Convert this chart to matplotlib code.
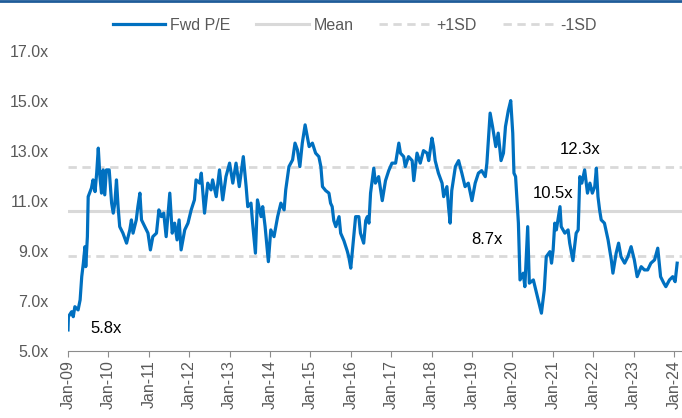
import matplotlib
matplotlib.use("Agg")
import matplotlib.pyplot as plt
from matplotlib.lines import Line2D

plt.rcParams['font.family'] = ['Liberation Sans', 'DejaVu Sans']

# forward P/E (decimal year, multiple)
years = [
    2009.00, 2009.01, 2009.09, 2009.13, 2009.17, 2009.25, 2009.30, 2009.34, 2009.38, 2009.42,
    2009.44, 2009.48, 2009.50, 2009.58, 2009.62, 2009.67, 2009.71, 2009.75, 2009.79, 2009.83,
    2009.87, 2009.91, 2009.95, 2010.02, 2010.08, 2010.12, 2010.16, 2010.20, 2010.24, 2010.28,
    2010.36, 2010.45, 2010.53, 2010.57, 2010.61, 2010.69, 2010.73, 2010.78, 2010.82, 2010.90,
    2010.98, 2011.04, 2011.10, 2011.19, 2011.25, 2011.31, 2011.37, 2011.43, 2011.52, 2011.58,
    2011.64, 2011.70, 2011.75, 2011.80, 2011.89, 2011.97,
    2012.05, 2012.13, 2012.17, 2012.26, 2012.30, 2012.38, 2012.46, 2012.54, 2012.58, 2012.67,
    2012.75, 2012.83, 2012.91, 2013.00, 2013.08, 2013.16, 2013.24, 2013.34, 2013.41, 2013.45,
    2013.53, 2013.57, 2013.64, 2013.69, 2013.78, 2013.82, 2013.88, 2013.96, 2014.02, 2014.10,
    2014.19, 2014.27, 2014.35, 2014.39, 2014.47, 2014.56, 2014.62, 2014.68, 2014.74, 2014.80,
    2014.87,
    2014.97, 2015.05, 2015.13, 2015.21, 2015.26, 2015.30, 2015.38, 2015.46, 2015.50, 2015.54,
    2015.58, 2015.63, 2015.71, 2015.75, 2015.83, 2015.91, 2015.95, 2016.00, 2016.04, 2016.12,
    2016.20, 2016.24, 2016.32, 2016.37, 2016.41, 2016.45, 2016.49, 2016.57, 2016.61, 2016.69,
    2016.78, 2016.86, 2016.94, 2017.02, 2017.11, 2017.19, 2017.23, 2017.31, 2017.35, 2017.43,
    2017.52, 2017.56, 2017.64, 2017.72, 2017.80, 2017.89,
    2017.93, 2018.01, 2018.05, 2018.09, 2018.17, 2018.26, 2018.30, 2018.38, 2018.42, 2018.46,
    2018.50, 2018.59, 2018.67, 2018.75, 2018.83, 2018.91, 2019.00, 2019.08, 2019.16, 2019.24,
    2019.33, 2019.37, 2019.45, 2019.51, 2019.59, 2019.65, 2019.72, 2019.78, 2019.83, 2019.90,
    2019.96, 2020.01, 2020.04, 2020.08, 2020.15, 2020.19, 2020.27, 2020.31, 2020.38, 2020.42,
    2020.52, 2020.60,
    2020.72, 2020.79, 2020.84, 2020.93, 2020.97, 2021.01, 2021.05, 2021.09, 2021.18, 2021.21,
    2021.30, 2021.38, 2021.42, 2021.50, 2021.58, 2021.63, 2021.67, 2021.72, 2021.79, 2021.86,
    2021.92, 2021.98, 2022.04, 2022.08, 2022.12, 2022.16, 2022.20, 2022.28, 2022.37, 2022.45,
    2022.49, 2022.57, 2022.63, 2022.69, 2022.78, 2022.86, 2022.94, 2023.02, 2023.09, 2023.19,
    2023.27, 2023.35, 2023.43, 2023.52, 2023.60, 2023.67, 2023.75, 2023.80, 2023.89, 2023.97,
    2024.03, 2024.08,
]
fwd_pe = [
    5.83, 6.36, 6.56, 6.36, 6.76, 6.63, 7.03, 7.96, 8.50, 9.16,
    8.36, 9.56, 11.16, 11.50, 11.83, 11.36, 12.10, 13.10, 11.96, 11.30,
    12.23, 11.23, 12.23, 12.23, 10.90, 10.50, 10.90, 11.83, 10.76, 9.96,
    9.70, 9.30, 9.83, 10.23, 9.70, 10.23, 10.76, 11.30, 10.23, 9.96,
    9.70, 9.03, 9.56, 9.70, 10.63, 10.36, 10.50, 9.56, 11.30, 9.70,
    10.10, 9.43, 10.23, 9.03, 9.83, 10.10,
    10.63, 11.03, 11.83, 11.70, 12.10, 10.50, 11.70, 11.43, 11.83, 11.16,
    12.23, 11.03, 11.96, 12.50, 11.70, 12.50, 11.56, 12.76, 11.56, 10.76,
    10.90, 10.10, 8.90, 11.03, 10.36, 10.76, 9.96, 8.56, 9.83, 9.56,
    10.36, 10.90, 10.63, 11.43, 12.36, 12.63, 13.30, 13.03, 12.36, 13.30,
    14.03,
    13.16, 13.30, 12.90, 12.76, 12.36, 11.56, 11.40, 11.30, 10.90, 10.76,
    10.20, 9.96, 10.36, 9.70, 9.40, 9.00, 8.76, 8.30, 9.00, 10.36,
    10.36, 9.70, 9.30, 10.20, 10.36, 10.10, 11.30, 12.30, 11.70, 11.96,
    11.00, 11.80, 12.20, 12.50, 12.50, 13.30, 12.90, 12.76, 12.36, 12.76,
    12.60, 11.80, 12.90, 12.50, 13.00, 12.90,
    12.60, 13.50, 13.16, 12.60, 12.10, 11.70, 11.16, 11.56, 10.76, 10.10,
    11.40, 12.36, 12.60, 12.10, 11.56, 11.70, 11.00, 11.70, 12.10, 12.20,
    11.96, 12.50, 14.50, 13.96, 13.16, 13.70, 12.60, 12.90, 13.96, 14.60,
    15.00, 13.70, 12.10, 11.96, 10.10, 7.83, 8.10, 7.56, 9.96, 7.70,
    7.83, 7.30,
    6.50, 7.43, 8.76, 8.96, 8.50, 9.03, 10.10, 9.83, 10.76, 9.96,
    9.70, 9.83, 9.30, 8.60, 9.70, 9.83, 11.96, 11.70, 12.23, 11.30,
    11.70, 11.30, 11.56, 12.30, 11.16, 10.63, 10.23, 10.10, 9.43, 8.63,
    8.10, 8.90, 9.30, 8.76, 8.50, 8.76, 9.16, 8.63, 7.96, 8.36,
    8.23, 8.23, 8.50, 8.63, 9.10, 7.96, 7.70, 7.56, 7.83, 7.96,
    7.76, 8.50,
]

mean_pe = 10.58
plus_sd = 12.35
minus_sd = 8.80

# callouts: (text, year, level)
callouts = [("5.8x", 2009.94, 5.87), ("8.7x", 2019.37, 9.43),
            ("10.5x", 2021.0, 11.3), ("12.3x", 2021.68, 13.03)]

tick_years = list(range(2009, 2025))
tick_labels = ["Jan-%02d" % (y % 100) for y in tick_years]
y_ticks = [5, 7, 9, 11, 13, 15, 17]

fig = plt.figure(figsize=(6.82, 4.18), dpi=100, facecolor='white')
ax = fig.add_axes([0.0997, 0.161, 0.9003, 0.718])

grey = '#D9D9D9'
ax.axhline(plus_sd, color=grey, lw=2.0, ls=(0, (3, 2)), label='+1SD')
ax.axhline(minus_sd, color=grey, lw=2.0, ls=(0, (3, 2)), label='-1SD')
ax.axhline(mean_pe, color=grey, lw=2.2, label='Mean')
ax.plot(years, fwd_pe, color='#0070C0', lw=2.3, label='Fwd P/E', solid_joinstyle='round')

for txt, x, y in callouts:
    ax.text(x, y, txt, fontsize=12, color='black', ha='center', va='center')

ax.set_xlim(2009.0, 2024.2)
ax.set_ylim(5, 17)
ax.set_xticks(tick_years)
ax.set_xticklabels(tick_labels, rotation=90, fontsize=11.5, color='#595959')
ax.set_yticks(y_ticks)
ax.set_yticklabels(["%.1fx" % v for v in y_ticks], fontsize=11.5, color='#595959')
ax.tick_params(axis='y', length=0, pad=14)
ax.tick_params(axis='x', length=4, color='#8C8C8C', pad=3)
for s in ['top', 'right', 'left']:
    ax.spines[s].set_visible(False)
ax.spines['bottom'].set_color('#8C8C8C')

h, l = ax.get_legend_handles_labels()
order = [3, 2, 0, 1]
ax.legend([h[i] for i in order], [l[i] for i in order], loc='center', ncol=4,
          bbox_to_anchor=(0.52, 0.94), bbox_transform=fig.transFigure, frameon=False,
          fontsize=11.5, labelcolor='#595959', handlelength=3.3, handletextpad=0.3,
          columnspacing=1.6)

fig.add_artist(Line2D([0, 1], [0.997, 0.997], transform=fig.transFigure,
                      color='#1F5C99', lw=2))

fig.savefig('out.png', dpi=100)
